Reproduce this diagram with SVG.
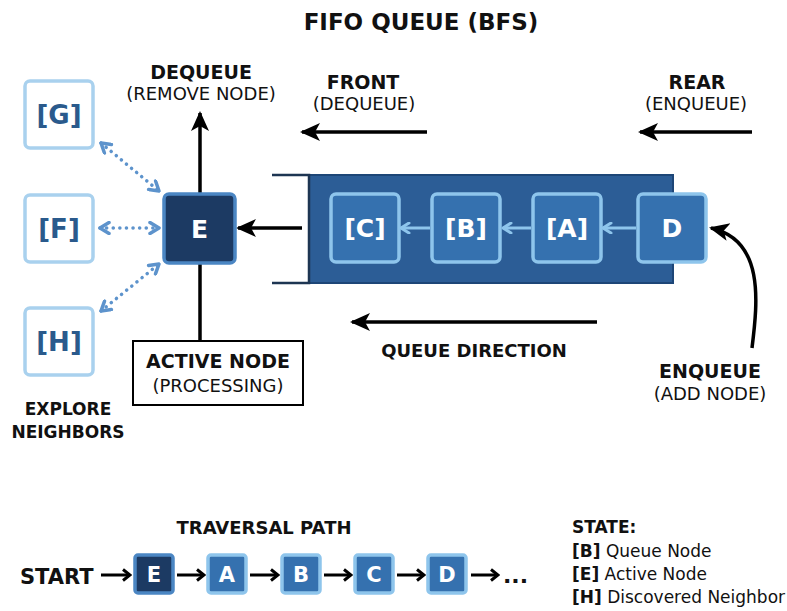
<svg xmlns="http://www.w3.org/2000/svg" width="787" height="611" viewBox="0 0 787 611">
<style>
text{font-family:"DejaVu Sans","Liberation Sans",sans-serif;fill:#111}
.b{font-weight:bold}
.t{font-size:23px;font-weight:bold;text-anchor:middle}
.lb{font-size:19px;font-weight:bold;text-anchor:middle}
.ls{font-size:18px;text-anchor:middle}
.nb{fill:#fff;stroke:#a9d1ee;stroke-width:3.5}
.nbt{font-size:26px;font-weight:bold;fill:#2a5a8c;text-anchor:middle}
.act{fill:#1c3a63;stroke:#4b86c3;stroke-width:3.5}
.qn{fill:#3571af;stroke:#8ec5ec;stroke-width:3.5}
.wt{font-size:25px;font-weight:bold;fill:#fff;text-anchor:middle}
.bt{font-size:21px;font-weight:bold;fill:#fff;text-anchor:middle}
.blk{stroke:#000;stroke-width:3.5;fill:none}
.sa{stroke:#000;stroke-width:3;fill:none}
.dot{stroke:#5d93cc;stroke-width:3.5;fill:none;stroke-dasharray:0.1 6.5;stroke-linecap:round}
.lt{stroke:#8ec5ec;stroke-width:3;fill:none}
.lg{font-size:17px}
</style>
<defs>
<marker id="ah" viewBox="0 0 20 20" refX="18" refY="10" markerWidth="20" markerHeight="20" markerUnits="userSpaceOnUse" orient="auto">
<path d="M0,1 L20,10 L0,19 L5,10 z" fill="#000"/>
</marker>
<marker id="ahl" viewBox="0 0 12 12" refX="10" refY="6" markerWidth="12" markerHeight="12" markerUnits="userSpaceOnUse" orient="auto">
<path d="M2,1 L10,6 L2,11" fill="none" stroke="#8ec5ec" stroke-width="3" stroke-linejoin="round" stroke-linecap="round"/>
</marker>
<marker id="ahd" viewBox="0 0 14 14" refX="12" refY="7" markerWidth="14" markerHeight="14" markerUnits="userSpaceOnUse" orient="auto-start-reverse">
<path d="M3,1.5 L12,7 L3,12.5" fill="none" stroke="#5d93cc" stroke-width="3.5" stroke-linejoin="round" stroke-linecap="round"/>
</marker>
<marker id="ahs" viewBox="0 0 14 14" refX="12" refY="7" markerWidth="14" markerHeight="14" markerUnits="userSpaceOnUse" orient="auto">
<path d="M5,1.5 L12,7 L5,12.5" fill="none" stroke="#000" stroke-width="3" stroke-linejoin="miter" stroke-linecap="butt"/>
</marker>
</defs>

<text class="t" x="421" y="30">FIFO QUEUE (BFS)</text>

<g id="connectors">
<line class="blk" x1="200" y1="193" x2="200" y2="113" marker-end="url(#ah)"/>
<line class="blk" x1="200" y1="263" x2="200" y2="341"/>
<line class="blk" x1="302" y1="228" x2="238" y2="228" marker-end="url(#ah)"/>
<line class="blk" x1="427" y1="132" x2="302" y2="132" marker-end="url(#ah)"/>
<line class="blk" x1="752" y1="132" x2="640" y2="132" marker-end="url(#ah)"/>
<line class="blk" x1="597" y1="322" x2="352" y2="322" marker-end="url(#ah)"/>
<path class="blk" d="M752,348 C758,300 764,240 711,228" marker-end="url(#ah)"/>
<line class="dot" x1="101" y1="143" x2="159" y2="191" marker-start="url(#ahd)" marker-end="url(#ahd)"/>
<line class="dot" x1="100" y1="228" x2="159" y2="228" marker-start="url(#ahd)" marker-end="url(#ahd)"/>
<line class="dot" x1="101" y1="311" x2="159" y2="264" marker-start="url(#ahd)" marker-end="url(#ahd)"/>
</g>

<g id="neighbor-G"><rect class="nb" x="25" y="81" width="68" height="67" rx="5"/><text class="nbt" x="59" y="124">[G]</text></g>
<g id="neighbor-F"><rect class="nb" x="25" y="195" width="68" height="67" rx="5"/><text class="nbt" x="59" y="238">[F]</text></g>
<g id="neighbor-H"><rect class="nb" x="25" y="308" width="68" height="67" rx="5"/><text class="nbt" x="59" y="351">[H]</text></g>
<g id="explore-label">
<text class="b" x="68" y="415" font-size="17" text-anchor="middle">EXPLORE</text>
<text class="b" x="68" y="438" font-size="17" text-anchor="middle">NEIGHBORS</text>
</g>

<g id="active-E"><rect class="act" x="164" y="194" width="71" height="69" rx="5"/><text class="wt" x="199.5" y="238">E</text></g>

<g id="dequeue-label">
<text class="lb" x="201" y="79">DEQUEUE</text>
<text class="ls" x="201" y="100">(REMOVE NODE)</text>
</g>

<g id="active-label">
<rect x="133" y="341" width="170" height="64" fill="#fff" stroke="#000" stroke-width="2"/>
<text class="lb" x="218" y="368">ACTIVE NODE</text>
<text class="ls" x="218" y="392">(PROCESSING)</text>
</g>

<g id="front-label">
<text class="lb" x="363" y="89">FRONT</text>
<text class="ls" x="364" y="110">(DEQUEUE)</text>
</g>
<g id="rear-label">
<text class="lb" x="697" y="89">REAR</text>
<text class="ls" x="696" y="110">(ENQUEUE)</text>
</g>

<g id="queue">
<rect x="309" y="175" width="364" height="108" fill="#2c5d96" stroke="#1d4677" stroke-width="2"/>
<path d="M272,175 H309 V283 H272" fill="none" stroke="#1d3552" stroke-width="2.5"/>
<line class="lt" x1="636" y1="228" x2="603" y2="228" marker-end="url(#ahl)"/>
<line class="lt" x1="531" y1="228" x2="503" y2="228" marker-end="url(#ahl)"/>
<line class="lt" x1="430" y1="228" x2="401" y2="228" marker-end="url(#ahl)"/>
</g>
<g id="queue-C"><rect class="qn" x="331" y="194" width="68" height="68" rx="5"/><text class="wt" x="365" y="237">[C]</text></g>
<g id="queue-B"><rect class="qn" x="432" y="194" width="68" height="68" rx="5"/><text class="wt" x="466" y="237">[B]</text></g>
<g id="queue-A"><rect class="qn" x="533" y="194" width="68" height="68" rx="5"/><text class="wt" x="567" y="237">[A]</text></g>
<g id="queue-D"><rect class="qn" x="638" y="194" width="68" height="68" rx="5"/><text class="wt" x="672" y="237">D</text></g>

<g id="queue-direction-label"><text class="b" x="474" y="357" font-size="18" text-anchor="middle">QUEUE DIRECTION</text></g>
<g id="enqueue-label">
<text class="lb" x="710" y="378">ENQUEUE</text>
<text class="ls" x="710" y="400">(ADD NODE)</text>
</g>

<g id="traversal">
<text class="b" x="264" y="534" font-size="18" text-anchor="middle">TRAVERSAL PATH</text>
<text class="b" x="20" y="584" font-size="21">START</text>
<line class="sa" x1="101" y1="575" x2="130" y2="575" marker-end="url(#ahs)"/>
<rect class="act" x="135" y="555" width="38" height="38" rx="3" stroke-width="3"/><text class="bt" x="154" y="582">E</text>
<line class="sa" x1="177" y1="575" x2="204" y2="575" marker-end="url(#ahs)"/>
<rect class="qn" x="208" y="555" width="38" height="38" rx="3" stroke-width="3"/><text class="bt" x="227" y="582">A</text>
<line class="sa" x1="250" y1="575" x2="278" y2="575" marker-end="url(#ahs)"/>
<rect class="qn" x="282" y="555" width="38" height="38" rx="3" stroke-width="3"/><text class="bt" x="301" y="582">B</text>
<line class="sa" x1="324" y1="575" x2="351" y2="575" marker-end="url(#ahs)"/>
<rect class="qn" x="355" y="555" width="38" height="38" rx="3" stroke-width="3"/><text class="bt" x="374" y="582">C</text>
<line class="sa" x1="397" y1="575" x2="424" y2="575" marker-end="url(#ahs)"/>
<rect class="qn" x="428" y="555" width="38" height="38" rx="3" stroke-width="3"/><text class="bt" x="447" y="582">D</text>
<line class="sa" x1="471" y1="575" x2="498" y2="575" marker-end="url(#ahs)"/>
<text class="b" x="503" y="583" font-size="22">...</text>
</g>

<g id="legend">
<text class="b" x="572" y="533" font-size="17">STATE:</text>
<text class="lg" x="572" y="557"><tspan class="b">[B]</tspan> Queue Node</text>
<text class="lg" x="572" y="580"><tspan class="b">[E]</tspan> Active Node</text>
<text class="lg" x="572" y="603"><tspan class="b">[H]</tspan> Discovered Neighbor</text>
</g>
</svg>
